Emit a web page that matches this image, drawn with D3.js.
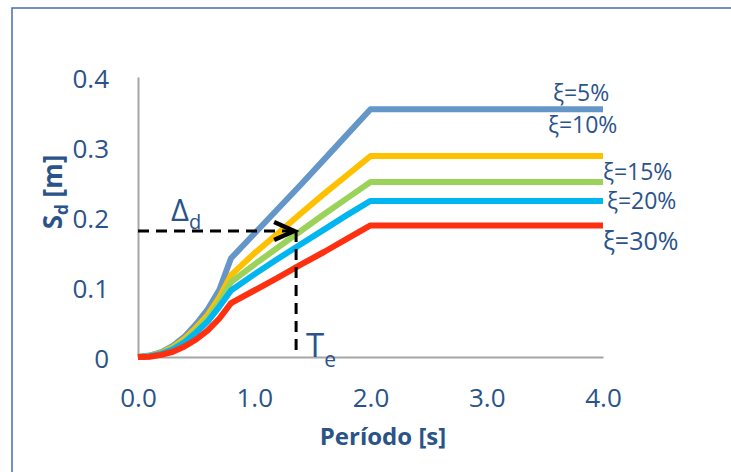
<!DOCTYPE html>
<html><head><meta charset="utf-8">
<script src="https://cdn.jsdelivr.net/npm/d3@7/dist/d3.min.js"></script>
<style>html,body{margin:0;padding:0;background:#fff;}svg{display:block;}</style>
</head><body><svg id="c" width="731" height="472"></svg>
<script>
const periods = [0, 0.1, 0.2, 0.3, 0.4, 0.5, 0.6, 0.7, 0.8, 1.0, 1.2, 1.4, 1.6, 1.8, 2.0, 2.5, 3.0, 3.5, 4.0];
const sd5  = [0, 0.002, 0.007, 0.016, 0.029, 0.047, 0.068, 0.096, 0.141, 0.176, 0.211, 0.246, 0.282, 0.318, 0.354, 0.354, 0.354, 0.354, 0.354];
const sd10 = [0, 0.0015, 0.006, 0.014, 0.026, 0.042, 0.060, 0.085, 0.117, 0.148, 0.176, 0.205, 0.233, 0.260, 0.287, 0.287, 0.287, 0.287, 0.287];
const sd15 = [0, 0.0013, 0.005, 0.012, 0.023, 0.038, 0.055, 0.078, 0.107, 0.132, 0.156, 0.180, 0.204, 0.227, 0.250, 0.250, 0.250, 0.250, 0.250];
const sd20 = [0, 0.001, 0.0045, 0.011, 0.021, 0.035, 0.051, 0.072, 0.095, 0.118, 0.140, 0.161, 0.182, 0.203, 0.223, 0.223, 0.223, 0.223, 0.223];
const sd30 = [0, 0.0003, 0.003, 0.0075, 0.015, 0.025, 0.038, 0.055, 0.077, 0.095, 0.113, 0.132, 0.150, 0.169, 0.188, 0.188, 0.188, 0.188, 0.188];
const seriesNames = ["ξ=5%", "ξ=10%", "ξ=15%", "ξ=20%", "ξ=30%"];
const seriesValues = [sd5, sd10, sd15, sd20, sd30];
const seriesColors = ["#6496c8", "#ffc000", "#9bd35a", "#00b6f0", "#ff3010"];
const xTicks = [0, 1, 2, 3, 4];
const xTickLabels = ["0.0", "1.0", "2.0", "3.0", "4.0"];
const yTicks = [0, 0.1, 0.2, 0.3, 0.4];
const yTickLabels = ["0", "0.1", "0.2", "0.3", "0.4"];
const designPoint = {T: 1.36, Sd: 0.18};

// layout (label positions in px)
const labelPos = [[553, 95], [548, 127], [603, 174], [607, 203], [603, 243]];

const svg = d3.select("#c");
const txt = "#2a5389";
const font = "'Open Sans', sans-serif";

// border
svg.append("path").attr("d", "M12,480 L12,8 L740,8").attr("fill", "none")
  .attr("stroke", "#4a6cb3").attr("stroke-width", 1.5);

const x = d3.scaleLinear().domain([0, 4]).range([138, 603]);
const y = d3.scaleLinear().domain([0, 0.4]).range([357, 77]);

// axes
const xAxis = svg.append("g").attr("transform", `translate(0,${y(0)})`)
  .call(d3.axisBottom(x).tickValues(xTicks).tickSize(0).tickFormat((d, i) => xTickLabels[i]));
xAxis.select(".domain").attr("stroke", "#a6a6a6").attr("stroke-width", 2);
xAxis.selectAll("text").attr("font-family", font).attr("font-size", 26).attr("fill", txt)
  .attr("dy", null).attr("y", 43).attr("dominant-baseline", "middle");

const yAxis = svg.append("g").attr("transform", `translate(${x(0)},0)`)
  .call(d3.axisLeft(y).tickValues(yTicks).tickSize(0).tickFormat((d, i) => yTickLabels[i]));
yAxis.select(".domain").attr("stroke", "#a6a6a6").attr("stroke-width", 2);
yAxis.selectAll("text").attr("font-family", font).attr("font-size", 26).attr("fill", txt)
  .attr("x", -29).attr("dy", null).attr("dominant-baseline", "middle")
  .attr("transform", "translate(0,4)");

// lines
const line = d3.line().x((d, i) => x(periods[i])).y(d => y(d));
seriesValues.forEach((vals, k) => {
  svg.append("path").datum(vals).attr("d", line).attr("fill", "none")
    .attr("stroke", seriesColors[k]).attr("stroke-width", 6)
    .attr("stroke-linejoin", "round");
});

// series labels
seriesNames.forEach((n, k) => {
  svg.append("text").attr("x", labelPos[k][0]).attr("y", labelPos[k][1])
    .attr("dominant-baseline", "middle").attr("font-family", font)
    .attr("font-size", k === 4 ? 25 : 23).attr("fill", txt).text(n);
});

// annotation
const px = x(designPoint.T), py = y(designPoint.Sd);
svg.append("path").attr("d", `M${x(0)},${py} L${px},${py} M${px},${py} L${px},${y(0)}`)
  .attr("fill", "none").attr("stroke", "#000").attr("stroke-width", 3)
  .attr("stroke-dasharray", "11,7");
svg.append("path").attr("d", `M${px - 22},${py - 9} L${px - 2},${py} L${px - 22},${py + 9}`)
  .attr("fill", "none").attr("stroke", "#000").attr("stroke-width", 4.5)
  .attr("stroke-linejoin", "miter");

const dl = svg.append("text").attr("x", 171).attr("y", 221).attr("font-family", font)
  .attr("font-size", 31).attr("fill", txt);
dl.append("tspan").text("Δ");
dl.append("tspan").attr("font-size", 20).attr("dy", 8).text("d");

const te = svg.append("text").attr("x", 306).attr("y", 357).attr("font-family", font)
  .attr("font-size", 33).attr("fill", txt);
te.append("tspan").text("T");
te.append("tspan").attr("font-size", 21).attr("dy", 10).text("e");

// axis titles
svg.append("text").attr("x", 383).attr("y", 445).attr("text-anchor", "middle")
  .attr("font-family", font).attr("font-weight", "bold").attr("font-size", 24)
  .attr("fill", txt).text("Período [s]");

const yt = svg.append("text").attr("transform", "translate(62,192) rotate(-90)")
  .attr("text-anchor", "middle").attr("font-family", font).attr("font-weight", "bold")
  .attr("font-size", 26).attr("fill", txt);
yt.append("tspan").text("S");
yt.append("tspan").attr("font-size", 17).attr("dy", 6).text("d");
yt.append("tspan").attr("dy", -6).text(" [m]");
</script></body></html>
